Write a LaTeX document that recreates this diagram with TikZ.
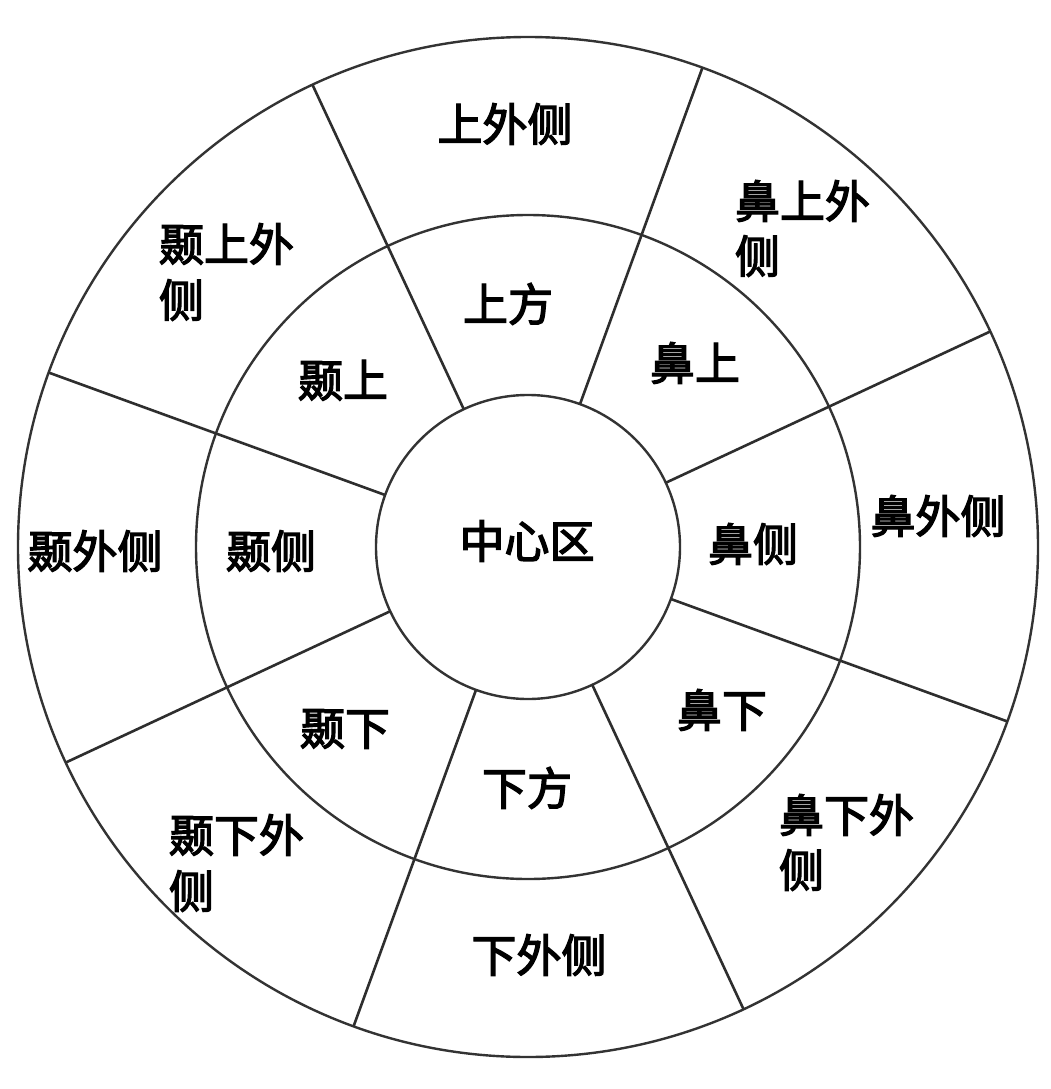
\documentclass[tikz,border=0pt]{standalone}
\usepackage{fontspec}
\newfontfamily\cjk{Noto Sans CJK SC}[FakeBold=3]
\begin{document}
\begin{tikzpicture}[x=1pt,y=-1pt,
  ring/.style={circle, draw=black!80, line width=2.4pt, inner sep=0pt, outer sep=0pt, fill=none},
  spoke/.style={draw=black!82, line width=2.6pt},
  lbl/.style={inner sep=0pt, outer sep=0pt, text=black, font=\cjk\fontsize{45}{56}\selectfont, text height=39.6pt, text depth=5.4pt},
  lblw/.style={lbl, anchor=west}]
\useasboundingbox (0,0) rectangle (1051,1089);
\fill[white] (0,0) rectangle (1051,1089);
% rings
\node[ring, minimum size=1020pt] (outer) at (528,547) {};
\node[ring, minimum size=664pt] (middle) at (528,547) {};
\node[ring, minimum size=304pt] (inner) at (528,547) {};
% spokes
\foreach \a in {25,70,115,160,205,250,295,340}
  \draw[spoke] (inner.\a) -- (outer.\a);
% labels, inner ring
\node[lbl] (zx) at (527,541) {中心区};
\node[lbl] (sf) at (508,304) {上方};
\node[lbl] (ns) at (695,363) {鼻上};
\node[lbl] (nc) at (753,544) {鼻侧};
\node[lbl] (nx) at (722,710) {鼻下};
\node[lbl] (xf) at (527,788) {下方};
\node[lbl] (tx) at (345,728) {颞下};
\node[lbl] (tc) at (271,551) {颞侧};
\node[lbl] (ts) at (343,380) {颞上};
% labels, outer ring
\node[lbl] (swc) at (505,124) {上外侧};
\node[lblw] (nswA) at (735,201) {鼻上外};
\node[lblw] (nswB) at (735,256) {侧};
\node[lbl] (nwc) at (938,516) {鼻外侧};
\node[lblw] (nxwA) at (779,815) {鼻下外};
\node[lblw] (nxwB) at (779,870) {侧};
\node[lbl] (xwc) at (539,955) {下外侧};
\node[lblw] (txwA) at (169,835) {颞下外};
\node[lblw] (txwB) at (169,891) {侧};
\node[lbl] (twc) at (95,551) {颞外侧};
\node[lblw] (tswA) at (159,244) {颞上外};
\node[lblw] (tswB) at (159,300) {侧};
\end{tikzpicture}
\end{document}
